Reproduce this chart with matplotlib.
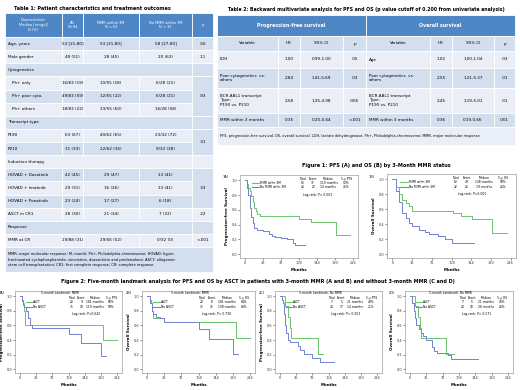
import matplotlib
matplotlib.use('Agg')
import matplotlib.pyplot as plt
from matplotlib.patches import Rectangle

plt.rcParams['font.family'] = ['DejaVu Sans']

W, H = 520, 390

# ---------------- Table 1 data ----------------
t1_title = 'Table 1: Patient characteristics and treatment outcomes'
t1_header = ['Characteristic\nMedian [range]/\nN (%)', 'All\nN=94', 'MMR within 3M\nN = 62',
             'No MMR within 3M\nN = 32', 'p']
t1_labels = ['Age, years', 'Male gender', 'Cytogenetics', 'Ph+ only', 'Ph+ poor cyto.', 'Ph+ others',
             'Transcript type', 'P190', 'P210', 'Induction therapy', 'HOVAD + Dasatinib',
             'HOVAD + Imatinib', 'HOVAD + Ponatinib', 'ASCT in CR1', 'Response', 'MMR at CR']
t1_sections = ['Cytogenetics', 'Transcript type', 'Induction therapy', 'Response']
t1_indent = ['Ph+ only', 'Ph+ poor cyto.', 'Ph+ others']
t1_all = ['53 [21-80]', '48 (51)', '', '16/83 (19)', '49/83 (59)', '18/83 (22)', '', '63 (67)', '31 (33)',
          '', '42 (45)', '29 (31)', '23 (24)', '28 (30)', '', '29/88 (31)']
t1_mmr = ['53 [21-80]', '28 (45)', '', '10/55 (18)', '12/55 (22)', '33/55 (60)', '', '40/62 (65)',
          '22/62 (35)', '', '29 (47)', '16 (26)', '17 (27)', '21 (34)', '', '29/56 (52)']
t1_nommr = ['58 [27-80]', '20 (63)', '', '6/28 (21)', '6/28 (21)', '16/28 (58)', '', '23/32 (72)',
            '9/32 (28)', '', '13 (41)', '13 (41)', '6 (18)', '7 (22)', '', '0/32 (0)']
# p values: (first row, last row, text)
t1_p = [(0, 0, '.50'), (1, 1, '.11'), (2, 2, ''), (3, 5, '.93'), (6, 6, ''), (7, 8, '.31'), (9, 9, ''),
        (10, 12, '.33'), (13, 13, '.22'), (14, 14, ''), (15, 15, '<.001')]
t1_foot = ('MMR, major molecular response; M, month; Ph+, Philadelphia-chromosome; HOVAD: hyper-\n'
           'fractionated cyclophosphamide, vincristine, doxorubicin and prednisolone; ASCT: allogeneic\n'
           'stem cell transplantation; CR1: first complete response; CR: complete response.')

# ---------------- Table 2 data ----------------
t2_title = 'Table 2: Backward multivariate analysis for PFS and OS (p value cutoff of 0.200 from univariate analysis)'
t2_groups = ['Progression-free survival', 'Overall survival']
t2_cols = ['Variable', 'HR', '95% CI', 'p']
t2_var_pfs = ['LDH', 'Poor cytogenetics  vs.\nothers', 'BCR-ABL1 transcript\nType:\nP190 vs. P210',
              'MMR within 3 months']
t2_hr_pfs = ['1.00', '2.84', '2.58', '0.35']
t2_ci_pfs = ['0.99-1.00', '1.41-5.69', '1.35-4.98', '0.20-0.64']
t2_p_pfs = ['.05', '.03', '.005', '<.001']
t2_var_os = ['Age', 'Poor cytogenetics  vs.\nothers', 'BCR-ABL1 transcript\nType:\nP190 vs. P210',
             'MMR within 3 months']
t2_hr_os = ['1.02', '2.55', '2.45', '0.36']
t2_ci_os = ['1.00-1.04', '1.21-5.37', '1.19-5.01', '0.19-0.66']
t2_p_os = ['.03', '.01', '.01', '.001']
t2_foot = ('PFS, progression-free survival; OS, overall survival; LDH, lactate dehydrogenase; '
           'Ph+, Philadelphia-chromosome; MMR, major molecular response')

# ---------------- Survival curves (months, survival) ----------------
f1a_mmr_t = [0, 3, 6, 9, 12, 15, 18, 21, 24, 30, 108, 120, 132, 182, 210]
f1a_mmr_s = [1.0, 0.95, 0.90, 0.85, 0.78, 0.70, 0.63, 0.58, 0.55, 0.52, 0.48, 0.47, 0.43, 0.26, 0.26]
f1a_no_t = [0, 3, 6, 9, 12, 15, 18, 24, 36, 48, 54, 60, 72, 84, 96, 100, 120]
f1a_no_s = [1.0, 0.90, 0.80, 0.62, 0.50, 0.42, 0.36, 0.33, 0.31, 0.28, 0.25, 0.23, 0.22, 0.20, 0.15, 0.12, 0.12]

f1b_mmr_t = [0, 6, 12, 18, 24, 30, 36, 110, 125, 145, 182, 210]
f1b_mmr_s = [1.0, 0.90, 0.80, 0.72, 0.68, 0.64, 0.58, 0.55, 0.51, 0.47, 0.28, 0.28]
f1b_no_t = [0, 6, 12, 18, 24, 30, 36, 48, 60, 66, 84, 96, 108, 150]
f1b_no_s = [1.0, 0.85, 0.70, 0.55, 0.48, 0.42, 0.38, 0.33, 0.30, 0.27, 0.24, 0.20, 0.15, 0.15]

f2a_asct_t = [0, 6, 8, 10, 12, 184, 216]
f2a_asct_s = [1.0, 0.95, 0.90, 0.80, 0.60, 0.40, 0.40]
f2a_no_t = [0, 5, 7, 10, 14, 18, 22, 28, 108, 135, 180, 190]
f2a_no_s = [1.0, 0.94, 0.88, 0.85, 0.80, 0.70, 0.60, 0.57, 0.48, 0.36, 0.18, 0.18]

f2b_asct_t = [0, 6, 8, 10, 12, 36, 186, 216]
f2b_asct_s = [1.0, 0.95, 0.90, 0.80, 0.70, 0.65, 0.43, 0.43]
f2b_no_t = [0, 6, 10, 14, 20, 28, 36, 110, 130, 180, 190]
f2b_no_s = [1.0, 0.90, 0.80, 0.75, 0.72, 0.70, 0.65, 0.55, 0.42, 0.21, 0.21]

f2c_asct_t = [0, 12, 14, 18, 22, 26, 84, 96]
f2c_asct_s = [1.0, 0.86, 0.86, 0.71, 0.57, 0.43, 0.21, 0.21]
f2c_no_t = [0, 6, 7, 9, 12, 15, 18, 24, 40, 45, 55, 72, 90, 120]
f2c_no_s = [1.0, 0.95, 0.90, 0.75, 0.60, 0.50, 0.40, 0.37, 0.32, 0.27, 0.21, 0.16, 0.10, 0.10]

f2d_asct_t = [0, 12, 14, 18, 22, 26, 80, 96]
f2d_asct_s = [1.0, 0.86, 0.86, 0.71, 0.57, 0.43, 0.21, 0.21]
f2d_no_t = [0, 6, 9, 12, 15, 20, 24, 30, 36, 48, 54, 60, 84, 90, 150]
f2d_no_s = [1.0, 0.90, 0.80, 0.70, 0.60, 0.55, 0.50, 0.45, 0.40, 0.30, 0.25, 0.22, 0.20, 0.14, 0.14]

GREEN = '#6cc46c'
BLUE = '#7282d2'
HEAD = '#4f86c6'
DARK = '#d3deef'
LIGHT = '#eaeff7'
FS = 3.0
LFS = 2.2

fig = plt.figure(figsize=(5.2, 3.9), dpi=100)
bg = fig.add_axes([0, 0, 1, 1])
bg.set_xlim(0, W)
bg.set_ylim(H, 0)
bg.axis('off')


def cell(x0, x1, y0, y1, color):
    bg.add_patch(Rectangle((x0, y0), x1 - x0, y1 - y0, facecolor=color, edgecolor='white', lw=0.6))


# ---------------- Table 1 ----------------
bg.text(14, 8, t1_title, fontsize=3.5, fontweight='bold', va='center')
cx = [5, 62, 83, 139, 192, 213]
hy0, hy1 = 13, 37
for i, h in enumerate(t1_header):
    cell(cx[i], cx[i + 1], hy0, hy1, HEAD)
    bg.text((cx[i] + cx[i + 1]) / 2, (hy0 + hy1) / 2, h, fontsize=2.6, color='white',
            ha='center', va='center', linespacing=1.2, style='italic' if h == 'p' else 'normal')
rh = (247 - 37) / len(t1_labels)
for r, lab in enumerate(t1_labels):
    y0 = 37 + r * rh
    y1 = y0 + rh
    col = DARK if r % 2 == 0 else LIGHT
    if lab in t1_sections:
        cell(cx[0], cx[4], y0, y1, col)
        bg.text(cx[0] + 3, (y0 + y1) / 2, lab, fontsize=FS, va='center')
        continue
    for i in range(4):
        cell(cx[i], cx[i + 1], y0, y1, col)
    x_lab = cx[0] + (7 if lab in t1_indent else 3)
    bg.text(x_lab, (y0 + y1) / 2, lab, fontsize=FS, va='center')
    for i, vals in enumerate([t1_all, t1_mmr, t1_nommr]):
        bg.text((cx[i + 1] + cx[i + 2]) / 2, (y0 + y1) / 2, vals[r], fontsize=FS, ha='center', va='center')
for r0, r1, txt in t1_p:
    y0 = 37 + r0 * rh
    y1 = 37 + (r1 + 1) * rh
    col = DARK if r1 > r0 else (DARK if r0 % 2 == 0 else LIGHT)
    cell(cx[4], cx[5], y0, y1, col)
    bg.text((cx[4] + cx[5]) / 2, (y0 + y1) / 2, txt, fontsize=FS, ha='center', va='center')
cell(cx[0], cx[5], 247, 272, DARK)
bg.text(cx[0] + 3, 259.5, t1_foot, fontsize=2.6, va='center', linespacing=1.35)

# ---------------- Table 2 ----------------
bg.text(366, 9, t2_title, fontsize=3.3, fontweight='bold', ha='center', va='center')
c2 = [217, 278, 300, 343, 366, 430, 452, 494, 515]
cell(c2[0], c2[4], 15, 36, HEAD)
cell(c2[4], c2[8], 15, 36, HEAD)
bg.text((c2[0] + c2[4]) / 2, 25.5, t2_groups[0], fontsize=3.4, color='white', fontweight='bold',
        ha='center', va='center')
bg.text((c2[4] + c2[8]) / 2, 25.5, t2_groups[1], fontsize=3.4, color='white', fontweight='bold',
        ha='center', va='center')
for k in range(8):
    cell(c2[k], c2[k + 1], 36, 51, DARK)
    bg.text((c2[k] + c2[k + 1]) / 2, 43.5, t2_cols[k % 4], fontsize=FS, ha='center', va='center',
            style='italic' if t2_cols[k % 4] == 'p' else 'normal')
ry = [51, 68, 88, 113, 127]
for r in range(4):
    y0, y1 = ry[r], ry[r + 1]
    col = LIGHT if r % 2 == 0 else DARK
    yc = (y0 + y1) / 2
    for k in range(8):
        cell(c2[k], c2[k + 1], y0, y1, col)
    half = [(t2_var_pfs, t2_hr_pfs, t2_ci_pfs, t2_p_pfs, 0), (t2_var_os, t2_hr_os, t2_ci_os, t2_p_os, 4)]
    for var, hr, ci, pv, o in half:
        bg.text(c2[o] + 3, yc, var[r], fontsize=FS, va='center', linespacing=1.2)
        bg.text((c2[o + 1] + c2[o + 2]) / 2, yc, hr[r], fontsize=FS, ha='center', va='center')
        bg.text((c2[o + 2] + c2[o + 3]) / 2, yc, ci[r], fontsize=FS, ha='center', va='center')
        bg.text((c2[o + 3] + c2[o + 4]) / 2, yc, pv[r], fontsize=FS, ha='center', va='center')
cell(c2[0], c2[8], 127, 145, LIGHT)
bg.text(c2[0] + 3, 136, t2_foot, fontsize=2.5, va='center')

# ---------------- Figures ----------------
bg.text(376, 166, 'Figure 1: PFS (A) and OS (B) by 3-Month MMR status', fontsize=3.6,
        fontweight='bold', ha='center', va='center')
bg.text(258, 282, 'Figure 2: Five-month landmark analysis for PFS and OS by ASCT in patients with '
        '3-month MMR (A and B) and without 3-month MMR (C and D)', fontsize=3.5,
        fontweight='bold', ha='center', va='center')


def km_axes(left, right, top, bottom, tag, ylabel):
    ax = fig.add_axes([left / W, 1 - bottom / H, (right - left) / W, (bottom - top) / H])
    ax.set_xlim(-10, 226)
    ax.set_ylim(-0.05, 1.07)
    ax.set_xticks([0, 36, 72, 108, 144, 180, 216])
    ax.set_yticks([0, 0.2, 0.4, 0.6, 0.8, 1.0])
    ax.set_yticklabels(['0.0', '0.2', '0.4', '0.6', '0.8', '1.0'])
    ax.tick_params(labelsize=2.5, length=1.2, width=0.4, pad=1, colors='#333333')
    for s in ax.spines.values():
        s.set_linewidth(0.4)
        s.set_color('#888888')
    ax.set_xlabel('Months', fontsize=2.9, fontweight='bold', labelpad=2)
    ax.set_ylabel(ylabel, fontsize=2.9, fontweight='bold', labelpad=2)
    ax.text(-0.12, 0.97, tag, transform=ax.transAxes, fontsize=2.5, ha='center', va='center')
    return ax


def km_legend(ax, rows, header, logrank, title=None, top=0.95):
    y = top
    if title:
        ax.text(0.42, y, title, transform=ax.transAxes, fontsize=LFS, ha='center', va='center')
        y -= 0.06
    xs = [0.53, 0.62, 0.75, 0.9]
    for x, h in zip(xs, header):
        ax.text(x, y, h, transform=ax.transAxes, fontsize=LFS, ha='center', va='center')
    for name, color, vals in rows:
        y -= 0.05
        ax.plot([0.1, 0.16], [y, y], transform=ax.transAxes, color=color, lw=0.8)
        ax.text(0.17, y, name, transform=ax.transAxes, fontsize=LFS, va='center')
        for x, v in zip(xs, vals):
            ax.text(x, y, v, transform=ax.transAxes, fontsize=LFS, ha='center', va='center')
    ax.text(0.66, y - 0.09, logrank, transform=ax.transAxes, fontsize=LFS, ha='center', va='center')


# Figure 1A
ax = km_axes(240, 358, 175, 258, '1A)', 'Progression-free Survival')
ax.step(f1a_mmr_t, f1a_mmr_s, where='post', color=GREEN, lw=0.7)
ax.step(f1a_no_t, f1a_no_s, where='post', color=BLUE, lw=0.7)
km_legend(ax, [('MMR wthn 3M', GREEN, ['62', '37', '119 months', '52%']),
               ('No MMR wthn 3M', BLUE, ['32', '27', '14 months', '25%'])],
          ['Total', 'Event', 'Median', '5-y PFS'], 'Log-rank: P= 0.001')

# Figure 1B
ax = km_axes(387, 516, 174, 258, '1B)', 'Overall Survival')
ax.step(f1b_mmr_t, f1b_mmr_s, where='post', color=GREEN, lw=0.7)
ax.step(f1b_no_t, f1b_no_s, where='post', color=BLUE, lw=0.7)
km_legend(ax, [('MMR wthn 3M', GREEN, ['62', '29', '138 months', '58%']),
               ('No MMR wthn 3M', BLUE, ['32', '26', '19 months', '26%'])],
          ['Total', 'Event', 'Median', '5-y OS'], 'Log-rank: P=0.001')

# Figure 2
panels = [
    (15, 122, '2A)', 'Progression-free Survival', f2a_asct_t, f2a_asct_s, f2a_no_t, f2a_no_s,
     '5-month Landmark: MMR', '5-y PFS', ['20', '9', '181 months', '60%'], ['35', '18', '119 months', '58%'],
     'Log-rank: P=0.642'),
    (142, 255, '2B)', 'Overall Survival', f2b_asct_t, f2b_asct_s, f2b_no_t, f2b_no_s,
     '5-month Landmark: MMR', '5-y OS', ['20', '8', '181 months', '64%'], ['35', '15', '138 months', '64%'],
     'Log-rank: P= 0.730'),
    (275, 382, '2C)', 'Progression-free Survival', f2c_asct_t, f2c_asct_s, f2c_no_t, f2c_no_s,
     '5-month Landmark: No MMR', '5-y PFS', ['7', '5', '21 months', '43%'], ['20', '17', '14 months', '21%'],
     'Log-rank: P= 0.253'),
    (405, 513, '2D)', 'Overall Survival', f2d_asct_t, f2d_asct_s, f2d_no_t, f2d_no_s,
     '5-month Landmark: No MMR', '5-y OS', ['7', '5', '21 months', '43%'], ['20', '18', '26 months', '26%'],
     'Log-rank: P= 0.571'),
]
for l, r, tag, ylab, ta, sa, tn, sn, ttl, ycol, va, vn, lr in panels:
    ax = km_axes(l, r, 291, 373, tag, ylab)
    ax.step(ta, sa, where='post', color=GREEN, lw=0.7)
    ax.step(tn, sn, where='post', color=BLUE, lw=0.7)
    km_legend(ax, [('ASCT', GREEN, va), ('No ASCT', BLUE, vn)],
              ['Total', 'Event', 'Median', ycol], lr, title=ttl, top=0.97)

fig.savefig('out.png', dpi=100)
